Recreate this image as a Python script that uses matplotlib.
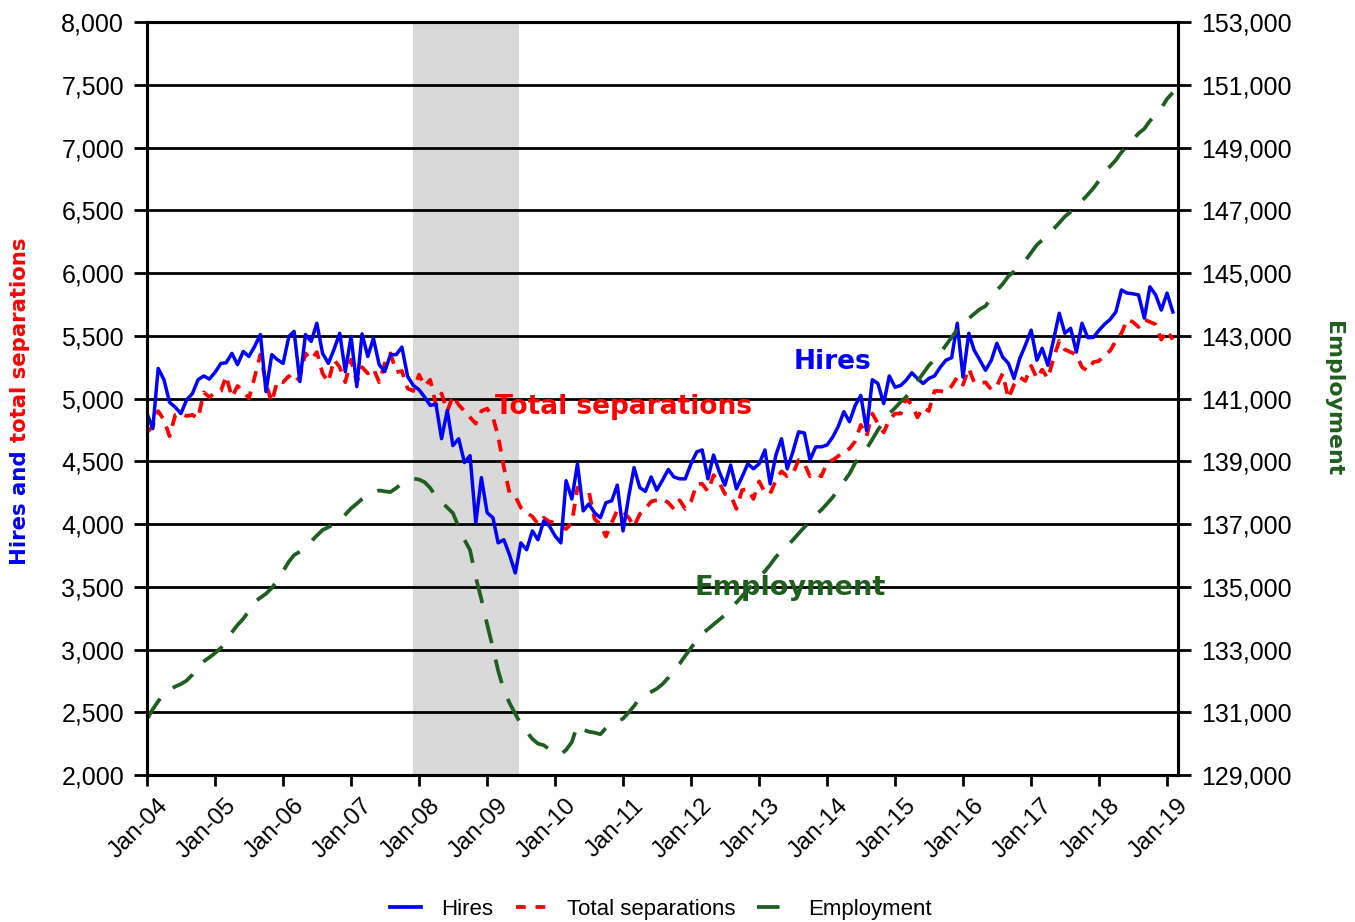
import matplotlib
matplotlib.use("Agg")
import matplotlib.pyplot as plt
import matplotlib.dates as mdates
import matplotlib.transforms as mtransforms
from matplotlib.lines import Line2D
from matplotlib.ticker import FuncFormatter, MultipleLocator
import pandas as pd

# monthly, Jan 2004 - Feb 2019 (thousands)
start_month = "2004-01-01"
hires = [
    4880, 4760, 5240, 5150, 4970, 4930, 4880, 4990, 5040, 5150, 5180, 5155,
    5210, 5280, 5285, 5360, 5270, 5375, 5335, 5415, 5510, 5055, 5350, 5310,
    5280, 5495, 5535, 5135, 5510, 5455, 5600, 5360, 5280, 5390, 5520, 5215,
    5495, 5095, 5515, 5335, 5480, 5270, 5215, 5350, 5350, 5410, 5175, 5105,
    5070, 5010, 4945, 4955, 4680, 4905, 4625, 4680, 4490, 4545, 4010, 4370,
    4090, 4050, 3850, 3875, 3755, 3610, 3850, 3795, 3945, 3875, 4025, 3985,
    3905, 3850, 4345, 4200, 4480, 4105, 4160, 4090, 4050, 4170, 4185, 4310,
    3945, 4225, 4450, 4290, 4260, 4375, 4270, 4350, 4435, 4375, 4360, 4360,
    4480, 4575, 4590, 4360, 4550, 4415, 4310, 4470, 4280, 4375, 4480, 4440,
    4480, 4590, 4320, 4550, 4680, 4440, 4575, 4735, 4725, 4510, 4615, 4615,
    4630, 4695, 4775, 4895, 4815, 4945, 5025, 4745, 5150, 5120, 4960, 5180,
    5090, 5105, 5145, 5205, 5160, 5120, 5160, 5180, 5250, 5305, 5325, 5600,
    5170, 5520, 5385, 5305, 5225, 5305, 5440, 5330, 5280, 5160, 5320, 5425,
    5545, 5305, 5400, 5265, 5465, 5680, 5520, 5560, 5370, 5600, 5485, 5487,
    5545, 5595, 5630, 5690, 5865, 5840, 5835, 5825, 5640, 5890, 5825, 5705,
    5840, 5690,
]
separations = [
    4730, 4780, 4900, 4830, 4700, 4870, 4880, 4860, 4870, 4840, 5050, 5010,
    5050, 5060, 5180, 5010, 5100, 5060, 5000, 5170, 5350, 5120, 4970, 5140,
    5130, 5180, 5130, 5170, 5360, 5310, 5370, 5200, 5130, 5310, 5250, 5130,
    5310, 5130, 5250, 5200, 5240, 5130, 5280, 5360, 5210, 5220, 5080, 5060,
    5190, 5100, 5150, 4950, 5040, 4900, 5020, 4950, 4900, 4850, 4800, 4900,
    4920, 4850, 4700, 4450, 4250, 4220, 4130, 4090, 4060, 4000, 4050, 4020,
    4010, 3980, 3960, 4010, 4290, 4270, 4260, 4040, 4000, 3900, 4010, 4110,
    4100, 4050, 3980, 4080, 4120, 4180, 4190, 4200, 4170, 4120, 4190, 4120,
    4180, 4320, 4320, 4260, 4390, 4330, 4240, 4230, 4120, 4270, 4280, 4200,
    4340, 4250, 4240, 4350, 4420, 4380, 4400, 4510, 4480, 4380, 4400, 4380,
    4490, 4510, 4540, 4580, 4600, 4660, 4790, 4700, 4880, 4800, 4730, 4830,
    4880, 4880, 5000, 4950, 4850, 4930, 4900, 5060, 5060, 5050, 5100, 5170,
    5110, 5240, 5130, 5120, 5130, 5070, 5100, 5200, 5000, 5110, 5170, 5140,
    5260, 5160, 5230, 5160, 5320, 5460, 5390, 5370, 5350, 5250, 5220, 5290,
    5300, 5350, 5380, 5460, 5520, 5630, 5610, 5570, 5630, 5610, 5590, 5470,
    5540, 5470,
]
employment = [
    130780, 131100, 131350, 131600, 131720, 131820, 131900, 132010, 132200, 132490, 132620, 132750,
    132890, 133050, 133330, 133550, 133780, 133980, 134230, 134520, 134650, 134780, 134960, 135200,
    135500, 135800, 136010, 136120, 136280, 136450, 136630, 136810, 136900, 137000, 137130, 137300,
    137500, 137650, 137800, 137930, 138000, 138070, 138040, 138020, 138150, 138300, 138380, 138450,
    138420, 138330, 138150, 137880, 137700, 137520, 137350, 136900, 136500, 136170, 135300, 134600,
    133800, 133050, 132330, 131700, 131300, 130950, 130620, 130380, 130150, 130000, 129950, 129820,
    129750, 129660, 129800, 130050, 130600, 130450, 130380, 130350, 130300, 130500, 130600, 130700,
    130800, 131000, 131200, 131450, 131550, 131650, 131750, 131900, 132100, 132350, 132550, 132800,
    133050, 133300, 133500, 133650, 133800, 133950, 134100, 134300, 134500, 134700, 134900, 135100,
    135300, 135500, 135700, 135950, 136150, 136300, 136490, 136700, 136900, 137100, 137300, 137450,
    137650, 137860, 138100, 138350, 138600, 138950, 139200, 139400, 139700, 140000, 140250, 140520,
    140700, 140900, 141050, 141300, 141550, 141800, 142050, 142250, 142450, 142700, 142950, 143200,
    143350, 143550, 143700, 143850, 143950, 144200, 144450, 144650, 144900, 145050, 145250, 145400,
    145650, 145900, 146050, 146250, 146400, 146600, 146800, 146950, 147050, 147300, 147500, 147700,
    147950, 148250, 148400, 148600, 148850, 149050, 149250, 149450, 149600, 149850, 150050, 150250,
    150550, 150750,
]
recession = ("2007-12-01", "2009-06-20")
right_ticks = list(range(129000, 153001, 2000))

BLUE = "#0000FF"
RED = "#FF0000"
GREEN = "#1E5E1E"

months = pd.date_range(start_month, periods=len(hires), freq="MS")
comma = FuncFormatter(lambda v, p: f"{v:,.0f}")

plt.rcParams["font.family"] = ["Liberation Sans", "DejaVu Sans"]

fig = plt.figure(figsize=(13.55, 9.22), dpi=100)
ax = fig.add_axes([0.1085, 0.1594, 0.7609, 0.8167])
ax2 = ax.twinx()

ax.axvspan(pd.Timestamp(recession[0]), pd.Timestamp(recession[1]),
           color="#D9D9D9", lw=0, zorder=0)
ax.set_ylim(2000, 8000)
ax.yaxis.set_major_locator(MultipleLocator(500))
ax.yaxis.set_major_formatter(comma)
ax.grid(axis="y", color="black", lw=2.0, zorder=1)
ax.set_axisbelow(False)

ax.plot(months, hires, color=BLUE, lw=2.5, zorder=4)
ax.plot(months, separations, color=RED, lw=2.7, ls=(0, (3.2, 2.4)), zorder=3)
ax2.plot(months, employment, color=GREEN, lw=2.7, ls=(0, (6.5, 4.5)), zorder=2)

ax2.set_ylim(129000, 153000)
ax2.set_yticks(right_ticks)
ax2.yaxis.set_major_formatter(comma)

ax.set_xlim(pd.Timestamp(start_month), pd.Timestamp("2019-03-01"))
ax.xaxis.set_major_locator(mdates.MonthLocator(bymonth=1))
ax.xaxis.set_major_formatter(mdates.DateFormatter("%b-%y"))

for a in (ax, ax2):
    for s in a.spines.values():
        s.set_linewidth(2.2)
    a.tick_params(labelsize=18, width=2, length=9.5, pad=7, direction="out")
ax.tick_params(axis="x", length=8, pad=4, labelsize=17.5)

shift = mtransforms.ScaledTranslation(10 / 100, -3 / 100, fig.dpi_scale_trans)
for lab in ax.get_xticklabels():
    lab.set_rotation(45)
    lab.set_ha("right")
    lab.set_rotation_mode("anchor")
    lab.set_transform(lab.get_transform() + shift)

# in-chart labels
ax.text(pd.Timestamp("2014-02-01"), 5290, "Hires", color=BLUE, fontsize=19,
        fontweight="bold", family="DejaVu Sans", ha="center", va="center", zorder=6)
ax.text(pd.Timestamp("2011-01-01"), 4935, "Total separations", color=RED, fontsize=19,
        fontweight="bold", family="DejaVu Sans", ha="center", va="center", zorder=6)
ax.text(pd.Timestamp("2013-06-15"), 3490, "Employment", color=GREEN, fontsize=19.6,
        fontweight="bold", family="DejaVu Sans", ha="center", va="center", zorder=6)

# axis titles (two colours on the left one)
t1 = fig.text(20 / 1355, 1 - 565 / 922, "Hires and", color=BLUE, rotation=90, fontsize=15.3,
              fontweight="bold", family="DejaVu Sans", ha="center", va="bottom")
renderer = fig.canvas.get_renderer()
top = t1.get_window_extent(renderer).y1
fig.text(20 / 1355, (top + 8) / fig.bbox.height, "total separations", color=RED, rotation=90,
         fontsize=15.3, fontweight="bold", family="DejaVu Sans", ha="center", va="bottom")
fig.text(1333 / 1355, 1 - 399 / 922, "Employment", color=GREEN, rotation=-90, fontsize=15.8,
         fontweight="bold", family="DejaVu Sans", ha="center", va="center")

handles = [
    Line2D([], [], color=BLUE, lw=2.7),
    Line2D([], [], color=RED, lw=2.7, ls=(0, (2.6, 2.6))),
    Line2D([], [], color=GREEN, lw=2.7, ls=(0, (6, 12))),
]
fig.legend(handles, ["Hires", "Total separations", "Employment"], loc="lower center",
           bbox_to_anchor=(0.488, -0.019), ncol=3, frameon=False, fontsize=16,
           handlelength=1.4, handletextpad=0.9, columnspacing=1.0)

fig.savefig("out.png", dpi=100)
